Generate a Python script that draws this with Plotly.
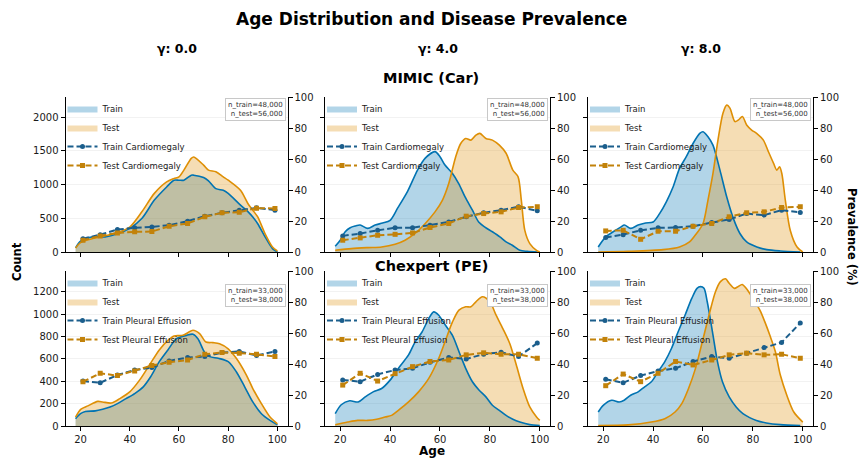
import plotly.graph_objects as go

W, H = 862, 458

# ---------------- data ----------------
gammas = ["γ: 0.0", "γ: 4.0", "γ: 8.0"]
datasets = ["MIMIC (Car)", "Chexpert (PE)"]
diseases = ["Cardiomegaly", "Pleural Effusion"]
n_labels = ["n_train=48,000<br>n_test=56,000", "n_train=33,000<br>n_test=38,000"]

# KDE count curves (age, count)
m0_train_age = [18, 20, 25, 30, 35, 40, 45, 50, 55, 58, 60, 62, 65, 66, 70, 72, 75, 78, 80, 85, 88, 90, 92, 95, 98, 100]
m0_train_cnt = [60, 160, 225, 225, 270, 350, 500, 770, 965, 1065, 1065, 1065, 1140, 1140, 1105, 1055, 940, 915, 870, 695, 600, 520, 420, 225, 50, 0]
m0_test_age = [18, 20, 25, 30, 35, 40, 45, 50, 55, 58, 60, 62, 65, 66, 70, 72, 75, 78, 80, 85, 88, 90, 92, 95, 98, 100]
m0_test_cnt = [60, 140, 200, 240, 290, 370, 600, 870, 1040, 1090, 1115, 1215, 1390, 1410, 1290, 1215, 1190, 1115, 1065, 915, 720, 620, 520, 270, 75, 15]

m4_train_age = [18, 20, 22, 24, 26, 28, 31, 34, 37, 40, 43, 47, 51, 54, 58, 60, 62, 65, 67.5, 70, 73, 75.5, 78, 81, 84, 86.5, 89, 92, 95, 99]
m4_train_cnt = [85, 175, 300, 360, 385, 400, 350, 400, 430, 470, 650, 900, 1215, 1390, 1490, 1415, 1290, 1165, 1015, 820, 620, 445, 370, 300, 225, 150, 100, 25, 10, 0]
m4_test_age = [18, 24.5, 31, 36.6, 42, 46, 50, 54, 58, 61, 63.5, 66.3, 68.3, 70.3, 72.4, 74.4, 76, 78.4, 81, 83.8, 86.5, 89.2, 91.3, 92.6, 94, 96, 98.7, 100]
m4_test_cnt = [25, 50, 65, 75, 115, 175, 275, 420, 595, 770, 1015, 1415, 1610, 1685, 1660, 1735, 1760, 1685, 1660, 1585, 1465, 1215, 1115, 770, 320, 125, 25, 0]

m8_train_age = [18, 21, 24, 27, 28.5, 31, 34, 37, 40, 42.6, 45.3, 48, 50.6, 53.3, 56, 58.7, 60, 62, 64, 66.8, 69.5, 72.2, 74.8, 77.5, 81.6, 85.6, 91, 99]
m8_train_cnt = [75, 225, 300, 370, 400, 350, 400, 430, 445, 570, 745, 965, 1240, 1415, 1610, 1760, 1785, 1710, 1585, 1215, 820, 495, 275, 150, 75, 35, 15, 0]
m8_test_age = [18, 30, 44, 50.6, 54.6, 57.4, 60, 62, 64, 66, 68, 69.5, 70.8, 72.8, 74.2, 75.8, 77.5, 79.5, 81.5, 84.2, 86.2, 88.3, 89.6, 90.7, 91.6, 93, 95, 97.7, 100]
m8_test_cnt = [0, 10, 35, 75, 150, 275, 420, 770, 1165, 1660, 2060, 2180, 2135, 1935, 1960, 2010, 1885, 1810, 1760, 1660, 1490, 1315, 1215, 1265, 1165, 770, 320, 75, 0]

c0_train_age = [18, 20, 22, 26, 29, 32, 35, 38.5, 42, 45.5, 48.5, 52, 55.5, 59, 63, 65.7, 67.7, 70.4, 72.5, 76, 80, 83.3, 86.7, 90, 93.5, 97, 100]
c0_train_cnt = [65, 110, 130, 135, 150, 170, 200, 245, 290, 350, 440, 575, 680, 780, 810, 820, 780, 660, 620, 605, 575, 485, 350, 215, 110, 50, 10]
c0_test_age = [18, 20.2, 23, 27, 29, 32.5, 36, 40, 44, 48, 52, 55.5, 58, 61.6, 65.7, 68.4, 71, 73.8, 76.5, 80, 83.3, 87.4, 90, 93.5, 97, 100]
c0_test_cnt = [80, 150, 180, 220, 215, 205, 245, 305, 410, 545, 680, 765, 805, 810, 855, 825, 750, 745, 735, 690, 605, 455, 335, 200, 80, 20]

c4_train_age = [18, 20.4, 23.8, 27.2, 30, 33.2, 36.6, 40, 43.3, 47.4, 50, 52.8, 55.5, 57.5, 59.5, 62.2, 65, 67.6, 70.3, 73, 75.7, 78.4, 81, 83.8, 86.5, 89.2, 92, 96, 100]
c4_train_cnt = [110, 190, 225, 215, 260, 305, 335, 410, 515, 635, 750, 840, 960, 1020, 990, 900, 810, 665, 515, 395, 320, 260, 185, 140, 95, 60, 35, 12, 5]
c4_test_age = [18, 23, 27, 31, 34.6, 38, 40.6, 43.3, 47.4, 51.4, 55.5, 59.5, 62.2, 65, 67.6, 70.3, 72.4, 74.4, 77, 80, 82.5, 85.2, 88, 90.6, 93.3, 96, 98.7, 100]
c4_test_cnt = [12, 35, 50, 50, 60, 80, 95, 140, 215, 305, 425, 605, 765, 930, 1035, 1065, 1065, 1110, 1155, 1110, 990, 870, 735, 545, 335, 170, 80, 50]

c8_train_age = [18, 20, 23.4, 26.4, 28.4, 31, 34, 36.6, 39.3, 42, 44.7, 47.4, 50, 52.8, 55.5, 57.6, 59, 60.4, 61.7, 63.8, 65.8, 67.8, 70.5, 73.3, 76, 78.7, 81.4, 85.4, 91, 99]
c8_train_cnt = [125, 185, 230, 215, 230, 275, 305, 350, 395, 485, 575, 695, 840, 990, 1140, 1230, 1245, 1230, 1110, 840, 575, 395, 260, 170, 110, 75, 50, 27, 12, 5]
c8_test_age = [18, 30, 39.3, 44.7, 48.8, 51.5, 54.2, 57, 59.7, 62.4, 65, 67, 69, 70.5, 72.6, 74, 75.7, 77.3, 80, 82.8, 84.8, 86.8, 89, 91, 93.6, 96.4, 100]
c8_test_cnt = [5, 10, 35, 65, 125, 200, 335, 515, 750, 990, 1200, 1290, 1315, 1275, 1230, 1245, 1265, 1230, 1140, 1035, 930, 810, 665, 455, 275, 125, 35]

# Prevalence (%) per age bin
prev_age = [21, 28, 35, 42, 49, 56, 63.5, 70.5, 77.5, 84.5, 91.5, 99]
m0_train_prev = [8.6, 11.2, 14.5, 15.6, 16.2, 17.3, 19.9, 23.1, 25.3, 27.0, 28.5, 27.0]
m0_test_prev = [7.6, 10.4, 12.3, 13.0, 13.2, 16.6, 18.4, 22.7, 25.3, 25.7, 28.3, 28.1]
m4_train_prev = [10.4, 11.9, 14.0, 15.6, 15.6, 17.3, 19.4, 22.7, 25.3, 27.0, 29.2, 26.6]
m4_test_prev = [7.6, 9.1, 10.8, 11.4, 12.3, 15.8, 18.4, 23.1, 24.8, 25.9, 28.7, 29.2]
m8_train_prev = [9.3, 11.2, 14.0, 15.6, 15.8, 16.6, 19.0, 21.0, 24.8, 23.8, 27.0, 25.5]
m8_test_prev = [13.6, 14.0, 8.2, 13.4, 13.4, 16.6, 18.4, 22.7, 25.3, 25.9, 28.7, 29.2]
c0_train_prev = [29.0, 27.9, 32.9, 36.1, 37.7, 42.0, 44.2, 44.8, 47.4, 48.1, 45.5, 48.1]
c0_test_prev = [28.6, 34.0, 32.5, 35.5, 39.0, 41.1, 42.6, 46.3, 47.4, 47.0, 46.3, 44.8]
c4_train_prev = [29.7, 28.6, 33.3, 36.1, 37.2, 41.1, 44.2, 43.3, 46.3, 47.6, 44.8, 53.5]
c4_test_prev = [26.4, 34.0, 29.0, 33.8, 38.3, 41.6, 42.6, 45.9, 47.2, 46.3, 46.3, 43.7]
c8_train_prev = [30.1, 27.9, 32.5, 35.5, 37.2, 41.6, 44.8, 43.7, 47.0, 50.6, 53.9, 66.5]
c8_test_prev = [26.0, 33.5, 28.6, 34.0, 41.6, 39.4, 42.6, 45.9, 47.0, 45.9, 46.3, 43.7]

count_ranges = [2300, 1385]
count_dtick = [500, 200]

panels = [
    (m0_train_age, m0_train_cnt, m0_test_age, m0_test_cnt, m0_train_prev, m0_test_prev),
    (m4_train_age, m4_train_cnt, m4_test_age, m4_test_cnt, m4_train_prev, m4_test_prev),
    (m8_train_age, m8_train_cnt, m8_test_age, m8_test_cnt, m8_train_prev, m8_test_prev),
    (c0_train_age, c0_train_cnt, c0_test_age, c0_test_cnt, c0_train_prev, c0_test_prev),
    (c4_train_age, c4_train_cnt, c4_test_age, c4_test_cnt, c4_train_prev, c4_test_prev),
    (c8_train_age, c8_train_cnt, c8_test_age, c8_test_cnt, c8_train_prev, c8_test_prev),
]

# ---------------- style ----------------
BLUE = "#0173b2"
ORANGE = "#de8f05"
BLUE_FILL = "rgba(1,115,178,0.3)"
ORANGE_FILL = "rgba(222,143,5,0.3)"
PBLUE = "#1b5e8c"
PORANGE = "#c2820a"
FONT = "DejaVu Sans"
TXT = "#1a1a1a"

col_px = [(65.5, 287.5), (325, 550), (588, 813)]
row_px = [(97, 252), (271, 426)]

def px_x(v):
    return v / W

def px_y(v):
    return 1 - v / H

fig = go.Figure()
layout = dict(
    width=W, height=H,
    margin=dict(l=0, r=0, t=0, b=0, autoexpand=False),
    paper_bgcolor="white", plot_bgcolor="rgba(0,0,0,0)",
    font=dict(family=FONT, size=10, color=TXT),
    showlegend=True,
)
annotations = []

for i, (tra, trc, tea, tec, trp, tep) in enumerate(panels):
    r, c = divmod(i, 3)
    n = i + 1
    n2 = i + 7
    xs = "" if n == 1 else str(n)
    xref = "x" + xs
    yref = "y" + xs
    y2ref = "y" + str(n2)
    leg = "legend" if n == 1 else "legend" + str(n)
    dis = diseases[r]

    fig.add_trace(go.Scatter(x=tra, y=trc, mode="lines", fill="tozeroy", fillcolor=BLUE_FILL,
                             line=dict(width=0, shape="spline", smoothing=0.8), name="Train",
                             xaxis=xref, yaxis=yref, legend=leg, hoverinfo="skip"))
    fig.add_trace(go.Scatter(x=tea, y=tec, mode="lines", fill="tozeroy", fillcolor=ORANGE_FILL,
                             line=dict(width=0, shape="spline", smoothing=0.8), name="Test",
                             xaxis=xref, yaxis=yref, legend=leg, hoverinfo="skip"))
    fig.add_trace(go.Scatter(x=tra, y=trc, mode="lines", line=dict(color=BLUE, width=1.6, shape="spline", smoothing=0.8),
                             showlegend=False, xaxis=xref, yaxis=yref))
    fig.add_trace(go.Scatter(x=tea, y=tec, mode="lines", line=dict(color=ORANGE, width=1.6, shape="spline", smoothing=0.8),
                             showlegend=False, xaxis=xref, yaxis=yref))
    fig.add_trace(go.Scatter(x=prev_age, y=trp, mode="lines+markers", name="Train " + dis,
                             line=dict(color=PBLUE, width=2, dash="6px,3px"),
                             marker=dict(symbol="circle", size=5, color=PBLUE),
                             xaxis=xref, yaxis=y2ref, legend=leg))
    fig.add_trace(go.Scatter(x=prev_age, y=tep, mode="lines+markers", name="Test " + dis,
                             line=dict(color=PORANGE, width=2, dash="6px,3px"),
                             marker=dict(symbol="square", size=5, color=PORANGE),
                             xaxis=xref, yaxis=y2ref, legend=leg))

    x0, x1 = col_px[c]
    ytop, ybot = row_px[r]
    axkw = dict(showline=True, linecolor="black", linewidth=1, ticks="outside", ticklen=4,
                tickcolor="black", tickfont=dict(size=10, family=FONT, color=TXT), zeroline=False)
    layout["xaxis" + xs] = dict(domain=[px_x(x0), px_x(x1)], anchor=yref, range=[13.9, 104.1],
                               tickvals=[20, 40, 60, 80, 100], showticklabels=(r == 1),
                               showgrid=False, **axkw)
    layout["yaxis" + xs] = dict(domain=[px_y(ybot), px_y(ytop)], anchor=xref, range=[0, count_ranges[r]],
                               dtick=count_dtick[r], showticklabels=(c == 0),
                               showgrid=True, gridcolor="#f2f2f2", gridwidth=1, **axkw)
    layout["yaxis" + str(n2)] = dict(overlaying=yref, anchor=xref, side="right", range=[0, 100],
                                    dtick=20, showgrid=False, **axkw)
    layout[leg] = dict(x=px_x(x0 - 3), y=px_y(ytop - 3), xanchor="left", yanchor="top",
                       bgcolor="rgba(0,0,0,0)", borderwidth=0, itemwidth=30,
                       font=dict(size=8.5, family=FONT, color=TXT), tracegroupgap=0)
    box_top = ytop + 1 if r == 0 else ytop + 13
    annotations.append(dict(xref="paper", yref="paper", x=px_x(x1 - 2), y=px_y(box_top),
                            xanchor="right", yanchor="top", text=n_labels[r], showarrow=False, align="right",
                            font=dict(size=7, family=FONT, color="#333333"),
                            bgcolor="white", bordercolor="#c8c8c8", borderwidth=1, borderpad=2))

# titles
annotations.append(dict(xref="paper", yref="paper", x=px_x(431), y=px_y(19), text="<b>Age Distribution and Disease Prevalence</b>",
                        showarrow=False, font=dict(size=17, family=FONT, color="black"), xanchor="center", yanchor="middle"))
for c, g in enumerate(gammas):
    cx = (col_px[c][0] + col_px[c][1]) / 2
    annotations.append(dict(xref="paper", yref="paper", x=px_x(cx), y=px_y(48), text="<b>" + g + "</b>",
                            showarrow=False, font=dict(size=12.5, family=FONT, color="black"), xanchor="center", yanchor="middle"))
annotations.append(dict(xref="paper", yref="paper", x=px_x(431), y=px_y(78), text="<b>" + datasets[0] + "</b>",
                        showarrow=False, font=dict(size=14.5, family=FONT, color="black"), xanchor="center", yanchor="middle"))
annotations.append(dict(xref="paper", yref="paper", x=px_x(431), y=px_y(266), text="<b>" + datasets[1] + "</b>",
                        showarrow=False, font=dict(size=14.5, family=FONT, color="black"), xanchor="center", yanchor="middle"))
annotations.append(dict(xref="paper", yref="paper", x=px_x(17), y=px_y(262), text="<b>Count</b>", textangle=-90,
                        showarrow=False, font=dict(size=11.5, family=FONT, color="black"), xanchor="center", yanchor="middle"))
annotations.append(dict(xref="paper", yref="paper", x=px_x(852), y=px_y(237), text="<b>Prevalence (%)</b>", textangle=90,
                        showarrow=False, font=dict(size=11.5, family=FONT, color="black"), xanchor="center", yanchor="middle"))
annotations.append(dict(xref="paper", yref="paper", x=px_x(432), y=px_y(451), text="<b>Age</b>",
                        showarrow=False, font=dict(size=12, family=FONT, color="black"), xanchor="center", yanchor="middle"))

layout["annotations"] = annotations
fig.update_layout(**layout)
fig.write_html("out.html", config={"displayModeBar": False},
               post_script="document.body.style.margin='0px';")
